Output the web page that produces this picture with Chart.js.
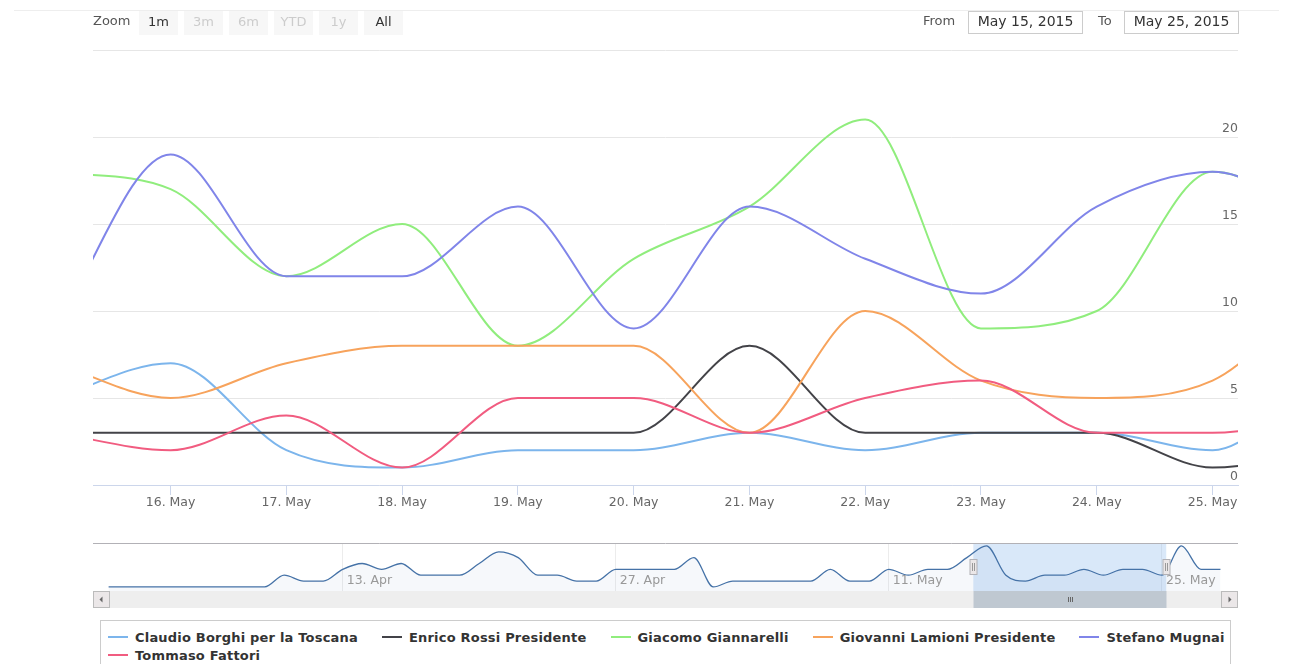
<!DOCTYPE html>
<html>
<head>
<meta charset="utf-8">
<title>Regionali Toscana 2015</title>
<script src="https://cdn.jsdelivr.net/npm/chart.js@4.4.1/dist/chart.umd.min.js"></script>
<style>
  body { margin: 0; background: #fff; font-family: "DejaVu Sans", sans-serif; }
  #page { position: relative; width: 1291px; height: 664px; overflow: hidden; }
  .topline { position: absolute; left: 14px; right: 12px; top: 10px; border-top: 1px solid #eeeeee; }
  .chartbox { position: absolute; left: 0; width: 1291px; }
  #zoomLbl { position: absolute; left: 93px; top: 10px; line-height: 22px; font-size: 13px; color: #555; }
  .rbtn { position: absolute; top: 11px; width: 39px; height: 24px; line-height: 22px; background: #f7f7f7;
          font-size: 13px; color: #333; text-align: center; }
  .rbtn.off { color: #cccccc; }
  .dlbl { position: absolute; top: 10px; line-height: 22px; font-size: 13px; color: #555; }
  .dinput { position: absolute; top: 11px; width: 115px; height: 23px; box-sizing: border-box; border: 1px solid #cccccc;
            font-size: 14px; line-height: 19px; color: #333; text-align: center; }
  #legend { position: absolute; left: 100px; top: 620px; width: 1131px; height: 60px; box-sizing: border-box;
            border: 1px solid #cccccc; padding: 7px 0 0 7px; display: flex; flex-wrap: wrap; align-content: flex-start;
            column-gap: 24px; }
  .item { display: flex; align-items: center; height: 18px; white-space: nowrap;
          font-weight: bold; font-size: 13px; letter-spacing: 0.2px; color: #333; }
  .sym { width: 20px; height: 2px; margin-right: 7px; }
</style>
</head>
<body>
<div id="page">
  <div class="topline"></div>
  <div class="chartbox" style="top:0;height:520px"><canvas id="mainChart"></canvas></div>
  <div class="chartbox" style="top:535px;height:80px"><canvas id="navChart"></canvas></div>

  <div id="zoomLbl">Zoom</div>
  <div class="rbtn" style="left:139px">1m</div>
  <div class="rbtn off" style="left:184px">3m</div>
  <div class="rbtn off" style="left:229px">6m</div>
  <div class="rbtn off" style="left:274px">YTD</div>
  <div class="rbtn off" style="left:319px">1y</div>
  <div class="rbtn" style="left:364px">All</div>

  <div class="dlbl" style="left:923px">From</div>
  <div class="dinput" style="left:968px">May 15, 2015</div>
  <div class="dlbl" style="left:1098px">To</div>
  <div class="dinput" style="left:1124px">May 25, 2015</div>

  <div id="legend"></div>
</div>
<script>
const MONTHS = ['Jan', 'Feb', 'Mar', 'Apr', 'May', 'Jun', 'Jul', 'Aug', 'Sep', 'Oct', 'Nov', 'Dec'];
const DAY_MS = 864e5;
const DAY0 = Date.UTC(2015, 3, 1);   // x values are days counted from 1 April 2015

const seriesNames = [
  'Claudio Borghi per la Toscana',
  'Enrico Rossi Presidente',
  'Giacomo Giannarelli',
  'Giovanni Lamioni Presidente',
  'Stefano Mugnai',
  'Tommaso Fattori'
];
const seriesColors = ['#7cb5ec', '#434348', '#90ed7d', '#f7a35c', '#8085e9', '#f15c80'];

// Borghi, whole period 1 Apr -> 28 May (shown in the navigator)
const borghiHistory = [
  0, 0, 0, 0, 0, 0, 0, 0, 0, 2, 1, 1, 3, 4, 3, 4, 2, 2, 2, 4,
  6, 5, 2, 2, 1, 1, 3, 3, 3, 3, 5, 0, 1, 1, 1, 1, 1, 3, 1, 1,
  3, 2, 3, 3, 5, 7, 2, 1, 2, 2, 3, 2, 3, 3, 2, 7, 3, 3
];

// daily values 15 May -> 26 May
const mainDates = ['2015-05-15', '2015-05-16', '2015-05-17', '2015-05-18', '2015-05-19', '2015-05-20',
                   '2015-05-21', '2015-05-22', '2015-05-23', '2015-05-24', '2015-05-25', '2015-05-26'];
const borghi      = borghiHistory.slice(44, 56);
const rossi       = [3, 3, 3, 3, 3, 3, 8, 3, 3, 3, 1, 2];
const giannarelli = [18, 17, 12, 15, 8, 13, 16, 21, 9, 10, 18, 15];
const lamioni     = [7, 5, 7, 8, 8, 8, 3, 10, 6, 5, 6, 12];
const mugnai      = [9, 19, 12, 12, 16, 9, 16, 13, 11, 16, 18, 15];
const fattori     = [3, 2, 4, 1, 5, 5, 3, 5, 6, 3, 3, 4];
const seriesValues = [borghi, rossi, giannarelli, lamioni, mugnai, fattori];

const mainTickDates = mainDates.slice(1, 11);
const navTickDates = ['2015-04-13', '2015-04-27', '2015-05-11', '2015-05-25'];
const yTicks = [0, 5, 10, 15, 20, 25];

const viewRange = [44.33, 54.22];   // visible window (15 May 8h -> 25 May 5h)
const navRange = [-0.8, 57.9];

const toDay = s => (Date.parse(s) - DAY0) / DAY_MS;
function dayLabel(d) {
  const t = new Date(DAY0 + d * DAY_MS);
  return t.getUTCDate() + '. ' + MONTHS[t.getUTCMonth()];
}
const mainDays = mainDates.map(toDay);

// legend
const legend = document.getElementById('legend');
seriesNames.forEach((name, i) => {
  const item = document.createElement('div');
  item.className = 'item';
  item.innerHTML = '<span class="sym" style="background:' + seriesColors[i] + '"></span>' + name;
  legend.appendChild(item);
});

Chart.defaults.font.family = '"DejaVu Sans", sans-serif';
Chart.defaults.color = '#666';

new Chart(document.getElementById('mainChart'), {
  type: 'line',
  data: {
    datasets: seriesNames.map((name, i) => ({
      label: name,
      data: seriesValues[i].map((v, k) => ({ x: mainDays[k], y: v })),
      borderColor: seriesColors[i],
      backgroundColor: seriesColors[i],
      borderWidth: 2,
      pointRadius: 0,
      cubicInterpolationMode: 'monotone',
      order: seriesNames.length - i,
      clip: 0
    }))
  },
  options: {
    responsive: true,
    maintainAspectRatio: false,
    animation: false,
    events: [],
    layout: { padding: { left: 93, right: 53, top: 50, bottom: 10 } },
    plugins: { legend: { display: false }, tooltip: { enabled: false } },
    scales: {
      x: {
        type: 'linear',
        min: viewRange[0],
        max: viewRange[1],
        afterBuildTicks: s => { s.ticks = mainTickDates.map(d => ({ value: toDay(d) })); },
        ticks: { callback: v => dayLabel(v), padding: 0, maxRotation: 0, autoSkip: false, font: { size: 12.5 }, color: '#666' },
        grid: { drawOnChartArea: false, tickLength: 10, color: '#ccd6eb' },
        border: { color: '#ccd6eb' }
      },
      y: {
        position: 'right',
        min: 0,
        max: 25,
        afterBuildTicks: s => { s.ticks = yTicks.map(v => ({ value: v })); },
        ticks: { mirror: true, padding: 0, labelOffset: -8, font: { size: 12.5 }, color: '#666',
                 callback: v => (v === 25 ? '' : v) },
        grid: { color: '#e6e6e6', drawTicks: false },
        border: { display: false }
      }
    }
  }
});

// navigator decorations: selected window, inside axis labels, handles and scrollbar
const navDecor = {
  id: 'navDecor',
  beforeDatasetsDraw(chart) {
    const { ctx, chartArea: a, scales: { x } } = chart;
    const x0 = x.getPixelForValue(viewRange[0]);
    const x1 = x.getPixelForValue(viewRange[1]);
    ctx.save();
    ctx.fillStyle = 'rgba(128,179,236,0.3)';
    ctx.fillRect(x0, a.top, x1 - x0, a.bottom - a.top);
    ctx.restore();
  },
  afterDraw(chart) {
    const { ctx, chartArea: a, scales: { x } } = chart;
    const x0 = Math.round(x.getPixelForValue(viewRange[0])) + 0.5;
    const x1 = Math.round(x.getPixelForValue(viewRange[1])) + 0.5;
    ctx.save();

    ctx.font = '12.5px "DejaVu Sans"';
    ctx.fillStyle = '#999';
    ctx.textBaseline = 'middle';
    x.ticks.forEach(t => ctx.fillText(dayLabel(t.value), x.getPixelForValue(t.value) + 4, a.bottom - 10));

    ctx.strokeStyle = '#b2b1b6';
    ctx.lineWidth = 1;
    ctx.beginPath();
    ctx.moveTo(a.left, a.top + 0.5);
    ctx.lineTo(a.right, a.top + 0.5);
    ctx.stroke();

    // scrollbar
    const sy = a.bottom, sh = 17;
    ctx.fillStyle = '#eeeeee';
    ctx.fillRect(a.left, sy, a.right - a.left, sh);
    ctx.fillStyle = '#bfc8d1';
    ctx.fillRect(x0, sy, x1 - x0, sh);
    ctx.strokeStyle = '#666';
    const gx = Math.round((x0 + x1) / 2) + 0.5;
    ctx.beginPath();
    [-2, 0, 2].forEach(o => { ctx.moveTo(gx + o, sy + 6); ctx.lineTo(gx + o, sy + 11); });
    ctx.stroke();

    [a.left, a.right - 17].forEach((bx, i) => {
      ctx.fillStyle = '#ebe7e8';
      ctx.fillRect(bx, sy, 17, sh);
      ctx.strokeStyle = '#bbbbbb';
      ctx.strokeRect(bx + 0.5, sy + 0.5, 16, sh - 1);
      const cx = bx + 8.5, cy = sy + sh / 2;
      ctx.fillStyle = '#666';
      ctx.beginPath();
      if (i === 0) { ctx.moveTo(cx - 2, cy); ctx.lineTo(cx + 1, cy - 3); ctx.lineTo(cx + 1, cy + 3); }
      else { ctx.moveTo(cx + 2, cy); ctx.lineTo(cx - 1, cy - 3); ctx.lineTo(cx - 1, cy + 3); }
      ctx.fill();
    });

    // handles
    const hy = Math.round((a.top + a.bottom) / 2) - 8;
    [x0, x1].forEach(hx => {
      ctx.fillStyle = '#ebe7e8';
      ctx.fillRect(hx - 3.5, hy + 0.5, 7, 15);
      ctx.strokeStyle = '#b2b1b6';
      ctx.strokeRect(hx - 3.5, hy + 0.5, 7, 15);
      ctx.strokeStyle = '#999';
      ctx.beginPath();
      ctx.moveTo(hx - 1, hy + 4); ctx.lineTo(hx - 1, hy + 12);
      ctx.moveTo(hx + 1, hy + 4); ctx.lineTo(hx + 1, hy + 12);
      ctx.stroke();
    });
    ctx.restore();
  }
};

new Chart(document.getElementById('navChart'), {
  type: 'line',
  data: {
    datasets: [{
      label: seriesNames[0],
      data: borghiHistory.map((v, k) => ({ x: k, y: v })),
      borderColor: '#4572a7',
      borderWidth: 1.3,
      backgroundColor: 'rgba(69,114,167,0.05)',
      fill: 'start',
      pointRadius: 0,
      cubicInterpolationMode: 'monotone',
      clip: 0
    }]
  },
  options: {
    responsive: true,
    maintainAspectRatio: false,
    animation: false,
    events: [],
    layout: { padding: { left: 93, right: 53, top: 8, bottom: 24 } },
    plugins: { legend: { display: false }, tooltip: { enabled: false } },
    scales: {
      x: {
        type: 'linear',
        min: navRange[0],
        max: navRange[1],
        afterBuildTicks: s => { s.ticks = navTickDates.map(d => ({ value: toDay(d) })); },
        ticks: { display: false },
        grid: { color: '#ececec', drawTicks: false },
        border: { display: false }
      },
      y: { display: false, min: -0.7, max: 7.5 }
    }
  },
  plugins: [navDecor]
});
</script>
</body>
</html>
